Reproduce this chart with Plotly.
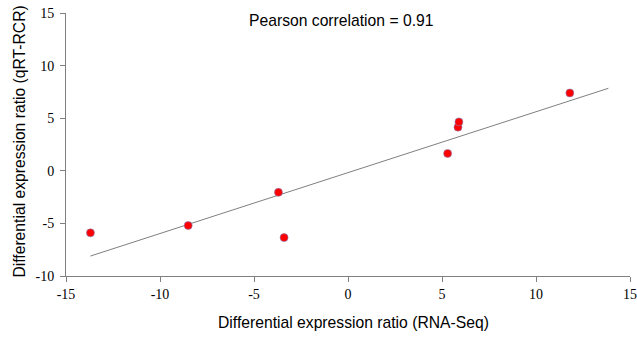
import numpy as np
import plotly.graph_objects as go

rna_seq = [-13.7, -8.5, -3.7, -3.4, 5.3, 5.85, 5.9, 11.8]
qrt_pcr = [-5.9, -5.2, -2.05, -6.35, 1.65, 4.15, 4.65, 7.4]
trend_x = [-13.7, 13.85]
x_ticks = [-15, -10, -5, 0, 5, 10, 15]
y_ticks = [-10, -5, 0, 5, 10, 15]
annotation_text = "Pearson correlation = 0.91"
x_title = "Differential expression ratio (RNA-Seq)"
y_title = "Differential expression ratio (qRT-RCR)"

slope, intercept = np.polyfit(rna_seq, qrt_pcr, 1)
trend_y = [slope * v + intercept for v in trend_x]

W, H = 637, 337
L, R, T, B = 65.5, 6.5, 13, 61
pw, ph = W - L - R, H - T - B


def px(xp):  # page pixel -> paper
    return (xp - L) / pw


def py(yp):
    return (H - B - yp) / ph


fig = go.Figure()
fig.add_trace(go.Scatter(x=trend_x, y=trend_y, mode="lines",
                         line=dict(color="#7f7f7f", width=1), showlegend=False))
fig.add_trace(go.Scatter(x=rna_seq, y=qrt_pcr, mode="markers",
                         marker=dict(color="#ff0000", size=8,
                                     line=dict(color="#8080c0", width=0.6)),
                         showlegend=False, cliponaxis=False))

axis_common = dict(showgrid=False, zeroline=False, showline=True, linecolor="#808080",
                   linewidth=1, ticks="outside", ticklen=5, tickcolor="#808080",
                   automargin=False,
                   tickfont=dict(family="Liberation Serif", size=14, color="black"))

fig.update_xaxes(range=[-15, 15], tickvals=x_ticks, ticktext=[str(v) for v in x_ticks],
                 **axis_common)
fig.update_yaxes(range=[-10, 15], tickvals=y_ticks, ticktext=[str(v) for v in y_ticks],
                 ticklabelstandoff=3, **axis_common)

title_font = dict(family="Liberation Sans", size=15.7, color="black")
fig.add_annotation(text=annotation_text, xref="paper", yref="paper",
                   x=px(341), y=py(20), showarrow=False,
                   xanchor="center", yanchor="middle", font=title_font)
fig.add_annotation(text=x_title, xref="paper", yref="paper",
                   x=px(354), y=py(322), showarrow=False,
                   xanchor="center", yanchor="middle", font=title_font)
fig.add_annotation(text=y_title, xref="paper", yref="paper", textangle=-90,
                   x=px(18), y=py(142), showarrow=False,
                   xanchor="center", yanchor="middle", font=title_font)

fig.update_layout(width=W, height=H, plot_bgcolor="white", paper_bgcolor="white",
                  margin=dict(l=L, r=R, t=T, b=B), autosize=False, hovermode=False)
fig.write_html("out.html", config={"displayModeBar": False, "staticPlot": True},
               post_script="document.body.style.margin='0';document.body.style.overflow='hidden';")
